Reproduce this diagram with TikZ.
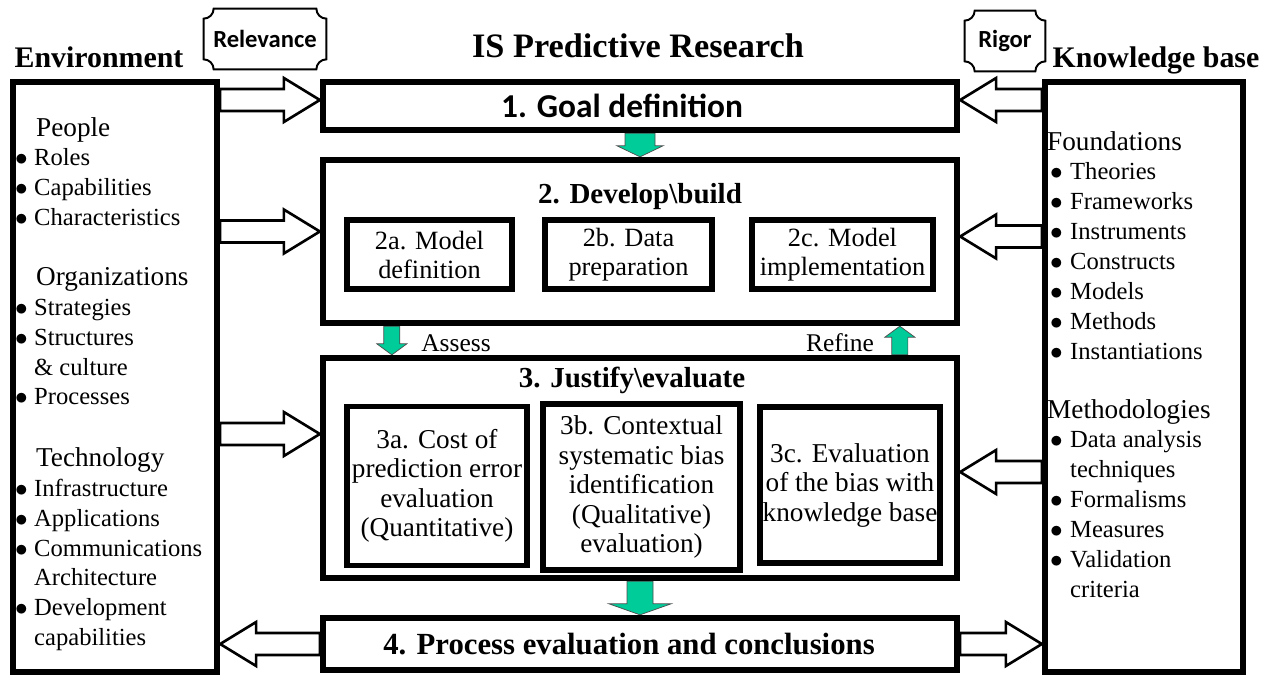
\documentclass[tikz,border=0pt]{standalone}
\usepackage{fontspec}
\setmainfont{Liberation Serif}
\newfontfamily\calibri{Carlito}
\usetikzlibrary{calc,backgrounds}
\definecolor{arrowgreen}{RGB}{0,204,153}
\newdimen\px \px=0.02cm
\newcommand{\headfont}{\bfseries\fontsize{16.5}{19}\selectfont}
\newcommand{\hd}[1]{{\fontsize{15.5}{17}\selectfont #1}}
\newcommand{\itm}[1]{\makebox[19\px][l]{$\bullet$}#1}
\newcommand{\kitm}[1]{\makebox[23\px][l]{\hspace*{3\px}$\bullet$}#1}
% block arrow: [style]{tail}{tip}{half shaft}{half head}{head length}, in px
\newcommand{\blockarrow}[6][]{%
  \coordinate (hb) at ($(#3)!#6*0.02cm!(#2)$);
  \draw[#1] ($(#2)!#4*0.02cm!90:(#3)$) -- ($(hb)!#4*0.02cm!-90:(#2)$)
    -- ($(hb)!#5*0.02cm!-90:(#2)$) -- (#3) -- ($(hb)!#5*0.02cm!90:(#2)$)
    -- ($(hb)!#4*0.02cm!90:(#2)$) -- ($(#2)!#4*0.02cm!-90:(#3)$) -- cycle;}
% plaque outline round a node, concave corners of radius #2 px
\newcommand{\plaque}[2]{%
  \draw[plaqueline] ($(#1.north west)+(#2,0)$) -- ($(#1.north east)+(-#2,0)$)
    .. controls +(0,0.55*#2) and +(-0.55*#2,0) .. ($(#1.north east)+(0,#2)$)
    -- ($(#1.south east)+(0,-#2)$)
    .. controls +(-0.55*#2,0) and +(0,-0.55*#2) .. ($(#1.south east)+(-#2,0)$)
    -- ($(#1.south west)+(#2,0)$)
    .. controls +(0,-0.55*#2) and +(0.55*#2,0) .. ($(#1.south west)+(0,-#2)$)
    -- ($(#1.north west)+(0,#2)$)
    .. controls +(0.55*#2,0) and +(0,0.55*#2) .. ($(#1.north west)+(#2,0)$) -- cycle;}

\begin{document}
\begin{tikzpicture}[x=0.02cm, y=-0.02cm,
    wh/.style 2 args={minimum width=#1*0.02cm, minimum height=#2*0.02cm},
    bigbox/.style={draw, line width=3.6pt, inner sep=0pt},
    subbox/.style={draw, line width=3.4pt, inner sep=0pt, align=center,
      font=\fontsize{15}{16.5}\selectfont},
    evalbox/.style={subbox, font=\fontsize{15.5}{16.8}\selectfont},
    title/.style={font=\bfseries\fontsize{17}{20}\selectfont, inner sep=0pt, anchor=base},
    listtext/.style={inner sep=0pt, align=left, anchor=north west,
      font=\fontsize{14}{17}\selectfont},
    plaquetext/.style={inner sep=0pt, font=\calibri\bfseries\fontsize{14}{16}\selectfont},
    plaqueline/.style={line width=1.1pt},
    labeltext/.style={inner sep=0pt, font=\fontsize{14.5}{17}\selectfont},
    hollow/.style={draw, line width=1.5pt, fill=white, line join=miter},
    greenarrow/.style={draw=black!70, line width=0.4pt, fill=arrowgreen}]
  \useasboundingbox (0,0) rectangle (1267,676);

  % titles
  \node[title, font=\bfseries\fontsize{19.5}{22}\selectfont] (mainhead) at (638,57) {IS Predictive Research};
  \node[title] (envhead) at (99,67) {Environment};
  \node[title] (kbhead) at (1156,67) {Knowledge base};
  \node[plaquetext, wh={122}{60}] (relevance) at (265,39) {Relevance};
  \node[plaquetext, wh={80}{60}] (rigor) at (1005,41) {Rigor};
  \plaque{relevance}{10}
  \plaque{rigor}{10}

  % outer columns
  \node[bigbox, wh={204}{590}] (env) at (115,377) {};
  \node[bigbox, wh={198}{590}] (kb) at (1144,377) {};

  \node[listtext] (envlist) at ($(env.north west)+(5,38)$) {%
    \hspace*{21\px}\hd{People}\\ \itm{Roles}\\ \itm{Capabilities}\\ \itm{Characteristics}\\[17pt]
    \hspace*{21\px}\hd{Organizations}\\ \itm{Strategies}\\ \itm{Structures}\\
    \hspace*{19\px}\& culture\\ \itm{Processes}\\[18pt]
    \hspace*{21\px}\hd{Technology}\\ \itm{Infrastructure}\\ \itm{Applications}\\
    \itm{Communications}\\ \hspace*{19\px}Architecture\\ \itm{Development}\\
    \hspace*{19\px}capabilities};
  \node[listtext] (kblist) at ($(kb.north west)+(5,52)$) {%
    \hd{Foundations}\\ \kitm{Theories}\\ \kitm{Frameworks}\\ \kitm{Instruments}\\
    \kitm{Constructs}\\ \kitm{Models}\\ \kitm{Methods}\\ \kitm{Instantiations}\\[16.5pt]
    \hd{Methodologies}\\ \kitm{Data analysis}\\ \hspace*{23\px}techniques\\
    \kitm{Formalisms}\\ \kitm{Measures}\\ \kitm{Validation}\\ \hspace*{23\px}criteria};

  % research steps
  \node[bigbox, wh={634}{48}, font=\calibri\bfseries\fontsize{19}{22}\selectfont] (goal) at (640,106) {1. Goal definition\hspace*{36\px}};
  \node[bigbox, wh={634}{163}] (develop) at (640,241.5) {};
  \node[bigbox, wh={634}{220}] (justify) at (640,468) {};
  \node[bigbox, wh={634}{52}, font=\bfseries\fontsize{17.5}{20}\selectfont] (process) at (640,644) {4. Process evaluation and conclusions\hspace*{22\px}};

  \node[inner sep=0pt, font=\headfont] (devhead) at ($(develop.north)+(0,40)$) {2. Develop\textbackslash build};
  \node[subbox, wh={165}{69}] (modeldef) at (429.5,254.5) {2a. Model\\definition};
  \node[subbox, wh={167}{69}] (dataprep) at (628.5,254.5) {2b. Data\\preparation};
  \node[subbox, wh={181}{69}] (modelimpl) at (842.5,254.5) {2c. Model\\implementation};

  \node[inner sep=0pt, font=\headfont] (justhead) at ($(justify.north)+(-8,26)$) {3. Justify\textbackslash evaluate};
  \node[evalbox, wh={180}{159}] (costeval) at (437,486) {3a. Cost of\\prediction error\\evaluation\\(Quantitative)};
  \node[evalbox, wh={197}{166}] (biasid) at (641.5,487) {3b. Contextual\\systematic bias\\identification\\(Qualitative)\\evaluation)};
  \node[evalbox, wh={180}{156}] (biaskb) at (850,485) {3c. Evaluation\\of the bias with\\knowledge base};

  \coordinate (assesstail) at ($(develop.south west)+(72,0)$);
  \coordinate (assesstip) at (assesstail |- justify.north);
  \coordinate (refinetail) at ($(justify.north west)+(580,0)$);
  \coordinate (refinetip) at (refinetail |- develop.south);
  \node[labeltext] (assess) at (456,343) {Assess};
  \node[labeltext] (refine) at (840,343) {Refine};

  \begin{pgfonlayer}{background}
    % green flow arrows
    \blockarrow[greenarrow]{goal.south}{develop.north}{15}{23}{11}
    \blockarrow[greenarrow]{assesstail}{assesstip}{8}{15}{11}
    \blockarrow[greenarrow]{refinetail}{refinetip}{8}{15}{11}
    \blockarrow[greenarrow]{justify.south}{process.north}{13}{31}{11}
    % relevance and rigor arrows
    \foreach \step/\dy in {goal/-6, develop/-10, justify/-34}{
      \coordinate (tip) at ($(\step.west)+(0,\dy)$);
      \coordinate (tail) at (tip -| env.east);
      \blockarrow[hollow]{tail}{tip}{11}{22}{36}
    }
    \foreach \step/\dy in {goal/-6, develop/-5, justify/4}{
      \coordinate (tip) at ($(\step.east)+(0,\dy)$);
      \coordinate (tail) at (tip -| kb.west);
      \blockarrow[hollow]{tail}{tip}{11}{22}{36}
    }
    \coordinate (ptail) at (process.west);
    \coordinate (ptip) at (ptail -| env.east);
    \blockarrow[hollow]{ptail}{ptip}{11}{22}{36}
    \coordinate (qtail) at (process.east);
    \coordinate (qtip) at (qtail -| kb.west);
    \blockarrow[hollow]{qtail}{qtip}{11}{22}{36}
  \end{pgfonlayer}
\end{tikzpicture}
\end{document}
